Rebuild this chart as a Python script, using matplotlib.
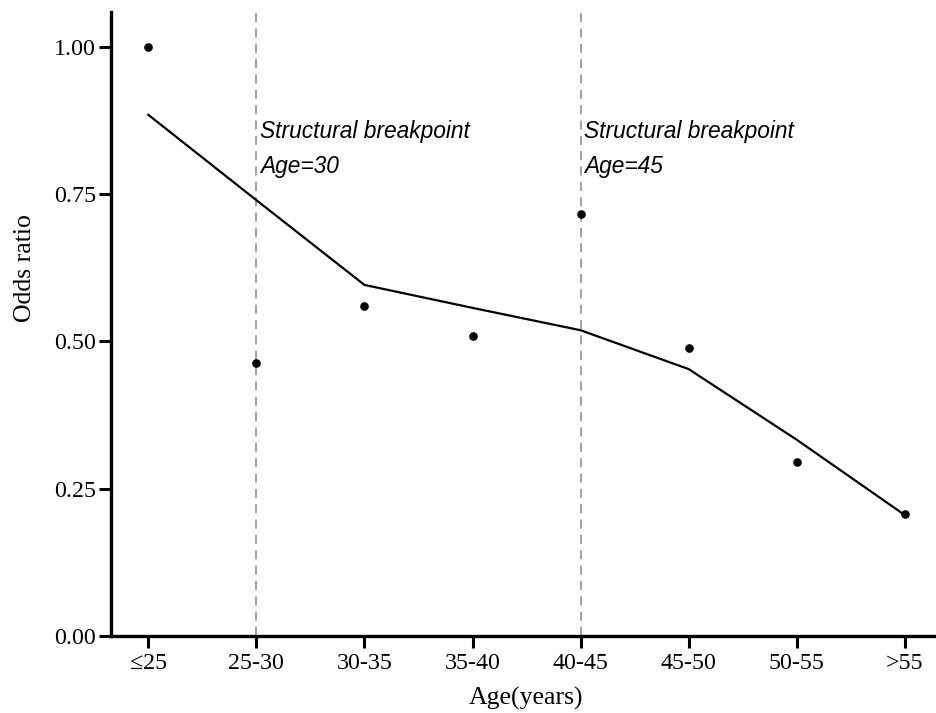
import matplotlib
matplotlib.use("Agg")
import matplotlib.pyplot as plt
import numpy as np

categories = ["≤25", "25-30", "30-35", "35-40", "40-45", "45-50", "50-55", ">55"]
observed = [1.00, 0.464, 0.560, 0.509, 0.716, 0.488, 0.295, 0.206]
fitted = [0.885, 0.740, 0.596, 0.557, 0.519, 0.453, 0.333, 0.205]
breakpoints = ["25-30", "40-45"]
breakpoint_titles = ["Structural breakpoint", "Structural breakpoint"]
breakpoint_ages = ["Age=30", "Age=45"]
yticks = [0.00, 0.25, 0.50, 0.75, 1.00]

fig = plt.figure(figsize=(9.36, 7.13), dpi=100)
ax = fig.add_axes([0.1183, 0.1084, 1.0 - 0.1183, 0.983 - 0.1084])

x = np.arange(len(categories))
ax.plot(x, fitted, color="black", lw=1.6, zorder=3)
ax.plot(x, observed, "o", color="black", ms=5.2, zorder=4)

serif = "Liberation Serif"
sans = "Liberation Sans"
for bp, t1, t2 in zip(breakpoints, breakpoint_titles, breakpoint_ages):
    xi = categories.index(bp)
    ax.axvline(xi, color="#999999", lw=1.3, ls=(0, (5, 3.5)), zorder=1)
    ax.text(xi + 0.034, 0.845, t1, family=sans, style="italic", fontsize=16.4,
            ha="left", va="baseline", zorder=5)
    ax.text(xi + 0.034, 0.786, t2, family=sans, style="italic", fontsize=16.4,
            ha="left", va="baseline", zorder=5)

ax.set_xlim(-0.348, 7.289)
ax.set_ylim(0, 1.0595)
ax.set_xticks(x)
ax.set_xticklabels(categories, family=serif, fontsize=17.3)
ax.set_yticks(yticks)
ax.set_yticklabels([f"{v:.2f}" for v in yticks], family=serif, fontsize=17.3)

for s in ["top", "right"]:
    ax.spines[s].set_visible(False)
for s in ["left", "bottom"]:
    ax.spines[s].set_linewidth(2.4)
ax.tick_params(axis="both", length=8.5, width=2.2, color="black")
ax.tick_params(axis="y", pad=2)
ax.tick_params(axis="x", pad=4)

ax.set_xlabel("Age(years)", family=serif, fontsize=18.5)
ax.set_ylabel("Odds ratio", family=serif, fontsize=18.5)
ax.xaxis.label.set_va("center")
ax.yaxis.label.set_va("center")
ax.xaxis.set_label_coords(0.503, -0.0999)
ax.yaxis.set_label_coords(-0.1038, 0.5896)

fig.savefig("out.png", dpi=100)
